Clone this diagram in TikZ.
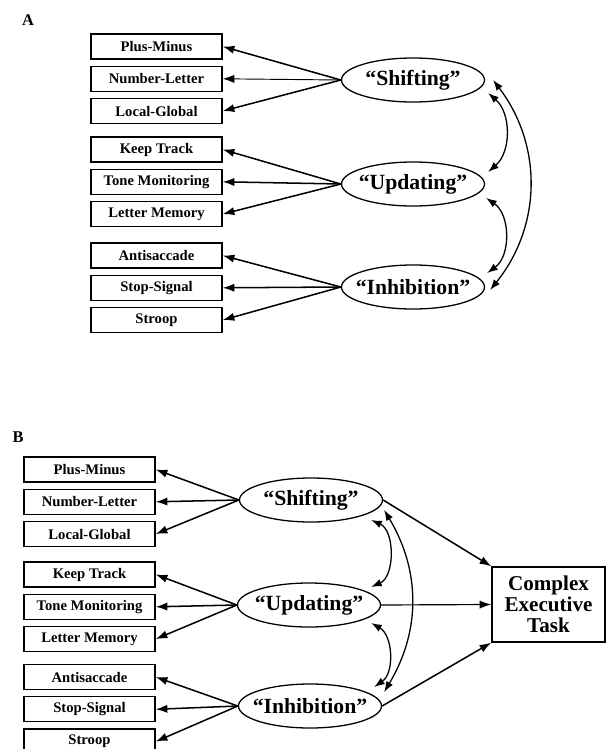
\documentclass[tikz,border=0pt]{standalone}
\usepackage{fontspec}
\setmainfont{Liberation Serif}
\usetikzlibrary{arrows.meta, positioning, shapes.geometric, calc}

\begin{document}
\begin{tikzpicture}[
  x=0.03cm, y=-0.03cm,
  node distance=0.18cm,
  box/.style={draw, line width=1.1pt, minimum width=3.93cm, minimum height=0.75cm, inner sep=1pt, font=\fontsize{12.5}{14}\selectfont\bfseries},
  latent/.style={draw, ellipse, line width=1.1pt, minimum width=4.29cm, minimum height=1.32cm, inner xsep=-8pt, inner ysep=0pt, font=\fontsize{18.5}{20}\selectfont\bfseries},
  task/.style={draw, line width=1.1pt, minimum width=3.39cm, minimum height=2.25cm, align=center, inner sep=1pt, font=\fontsize{18}{18}\selectfont\bfseries},
  panel/.style={inner sep=0pt, font=\fontsize{14}{16}\selectfont\bfseries},
  arrow/.style={-{Latex[length=10pt, width=7pt]}, line width=1.3pt},
  dbl/.style={{Latex[length=9pt, width=6.5pt]}-{Latex[length=9pt, width=6.5pt]}, line width=1.1pt},
]
\useasboundingbox (0,0) rectangle (606,749);

% Panel A
\node[panel] (labelA) at (28,20) {A};

\node[box] (plusA)    at (156.5,46.5) {Plus-Minus};
\node[box] (numberA)  [below=of plusA]   {Number-Letter};
\node[box] (localA)   [below=of numberA] {Local-Global};
\node[box] (keepA)    at (156.5,149.5) {Keep Track};
\node[box] (toneA)    [below=of keepA]   {Tone Monitoring};
\node[box] (letterA)  [below=of toneA]   {Letter Memory};
\node[box] (antiA)    at (156.5,255.5) {Antisaccade};
\node[box] (stopA)    [below=of antiA]   {Stop-Signal};
\node[box] (stroopA)  [below=of stopA]   {Stroop};

\node[latent] (shiftA)  at (413,80)  {“Shifting”};
\node[latent] (updateA) at (413,184) {“Updating”};
\node[latent] (inhibA)  at (413,287) {“Inhibition”};

\draw [arrow] (shiftA.west)  -- (plusA.east);
\draw [arrow, line width=0.8pt] (shiftA.west)  -- (numberA.east);
\draw [arrow] (shiftA.west)  -- (localA.east);
\draw [arrow] (updateA.west) -- (keepA.east);
\draw [arrow] (updateA.west) -- (toneA.east);
\draw [arrow] (updateA.west) -- (letterA.east);
\draw [arrow] (inhibA.west)  -- (antiA.east);
\draw [arrow] (inhibA.west)  -- (stopA.east);
\draw [arrow] (inhibA.west)  -- (stroopA.east);

% correlations A
\draw [dbl] ($(shiftA.east)+(3,13)$)   to[bend left=49] ($(updateA.east)+(3,-12)$);
\draw [dbl] ($(updateA.east)+(1,14)$)  to[bend left=55] ($(inhibA.east)+(2,-14)$);
\draw [dbl] ($(shiftA.east)+(8,0)$)    to[bend left=38] ($(inhibA.east)+(5,3)$);

% Panel B
\node[panel] (labelB) at (18,437) {B};

\node[box] (plusB)    at (89.5,469.5) {Plus-Minus};
\node[box] (numberB)  [below=of plusB]   {Number-Letter};
\node[box] (localB)   [below=of numberB] {Local-Global};
\node[box] (keepB)    at (89.5,574.5) {Keep Track};
\node[box] (toneB)    [below=of keepB]   {Tone Monitoring};
\node[box] (letterB)  [below=of toneB]   {Letter Memory};
\node[box] (antiB)    at (89.5,677) {Antisaccade};
\node[box] (stopB)    [below=of antiB]   {Stop-Signal};
\node[box] (stroopB)  [below=of stopB]   {Stroop};

\node[latent] (shiftB)  at (311,500) {“Shifting”};
\node[latent] (updateB) at (309,605) {“Updating”};
\node[latent] (inhibB)  at (310,706) {“Inhibition”};

\node[task] (task) at (548.5,604.5) {Complex\\Executive\\Task};

\draw [arrow] (shiftB.west)  -- (plusB.east);
\draw [arrow] (shiftB.west)  -- (numberB.east);
\draw [arrow] (shiftB.west)  -- (localB.east);
\draw [arrow] (updateB.west) -- (keepB.east);
\draw [arrow] (updateB.west) -- (toneB.east);
\draw [arrow] (updateB.west) -- (letterB.east);
\draw [arrow] (inhibB.west)  -- (antiB.east);
\draw [arrow] (inhibB.west)  -- (stopB.east);
\draw [arrow] (inhibB.west)  -- (stroopB.east);

\draw [arrow] (shiftB.east)  -- (task.north west);
\draw [arrow, line width=1pt] (updateB.east) -- (task.west);
\draw [arrow] (inhibB.east)  -- (task.south west);

% correlations B
\draw [dbl] ($(shiftB.east)+(-12,20)$)  to[bend left=66] ($(updateB.east)+(-10,-18)$);
\draw [dbl] ($(updateB.east)+(-10,18)$) to[bend left=58] ($(inhibB.east)+(-8,-19)$);
\draw [dbl] ($(shiftB.east)+(1,10)$)    to[bend left=31] ($(inhibB.east)+(2,-14)$);

\end{tikzpicture}
\end{document}
